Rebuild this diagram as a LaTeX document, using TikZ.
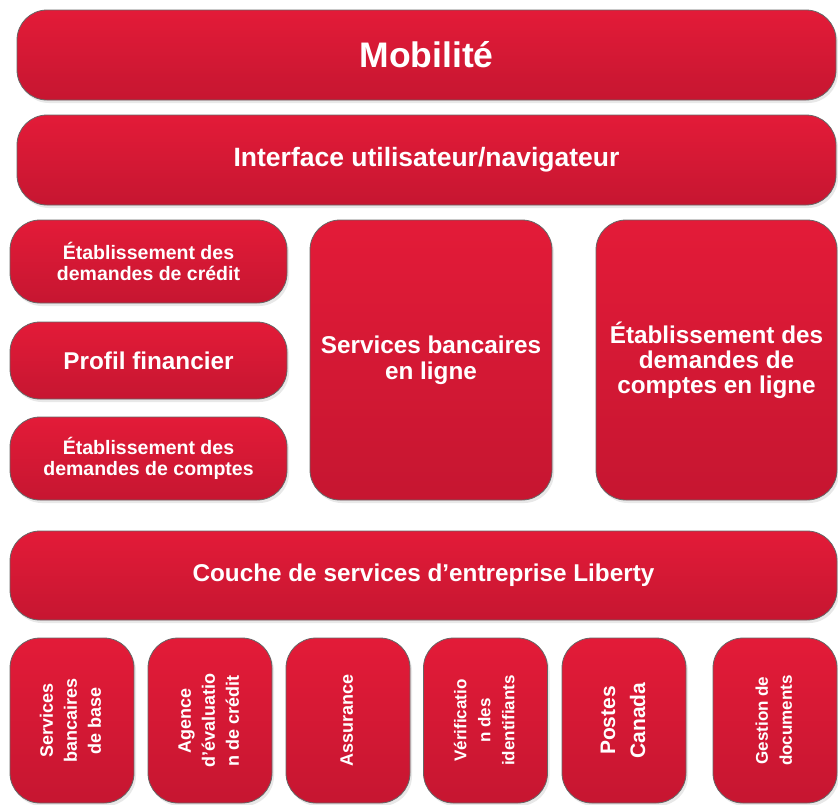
\documentclass[tikz,border=0pt]{standalone}
\usepackage{fontspec}
\setmainfont{Liberation Sans}
\usetikzlibrary{shapes,shadows,positioning}
\definecolor{libred}{HTML}{E31B38}
\definecolor{libdark}{HTML}{C61631}
\tikzstyle{block} = [rectangle, draw=black!60, line width=0.8pt,
    top color=libred, bottom color=libdark, text=white, align=center,
    rounded corners=30pt, inner sep=0pt,
    drop shadow={shadow xshift=2pt, shadow yshift=-3pt, opacity=0.18}]
\tikzstyle{wide} = [block, minimum width=819pt, minimum height=90pt]
\tikzstyle{side} = [block, minimum width=277pt]
\tikzstyle{tall} = [block, minimum width=242pt, minimum height=280pt]
\tikzstyle{base} = [block, minimum width=124pt, minimum height=165pt]
\newcommand{\bsize}[2]{\bfseries\fontsize{#1}{#2}\selectfont}
\newcommand{\sidelabel}[1]{\rotatebox{90}{\begin{tabular}{@{}c@{}}#1\end{tabular}}}

\begin{document}
\begin{tikzpicture}[x=1pt, y=-1pt]
\useasboundingbox (0,0) rectangle (838,804);
%% Top layers
\node [wide, font=\bsize{35.5}{38}] (mobilite) at (426.5,55) {Mobilité};
\node [wide, font=\bsize{26.5}{29}] (interface) at (426.5,160) {Interface utilisateur/navigateur};

%% Left column
\node [side, minimum height=83pt, font=\bsize{19.5}{21}] (credit) at (148.5,261.5)
    {Établissement des\\demandes de crédit};
\node [side, minimum height=77pt, font=\bsize{24.3}{26}] (profil) at (148.5,360.5)
    {Profil financier};
\node [side, minimum height=83pt, font=\bsize{19.5}{21}] (comptes) at (148.5,458.5)
    {Établissement des\\demandes de comptes};

%% Middle and right
\node [tall, font=\bsize{24.3}{26}] (services) at (431,360)
    {Services bancaires\\en ligne};
\node [tall, minimum width=241pt, font=\bsize{24.3}{25}] (enligne) at (716.5,360)
    {Établissement des\\demandes de\\comptes en ligne};

%% Service layer
\node [block, minimum width=827pt, minimum height=89pt, font=\bsize{24.3}{26}] (couche)
    at (423.5,575.5) {Couche de services d’entreprise Liberty};

%% Back-end systems
\node [base, font=\bsize{18}{24}] (base) at (72,720.5)
    {\sidelabel{Services\\bancaires\\de base}};
\node [base, font=\bsize{18}{24}] (agence) at (210,720.5)
    {\sidelabel{Agence\\d’évaluatio\\n de crédit}};
\node [base, font=\bsize{18}{24}] (assurance) at (348,720.5)
    {\sidelabel{Assurance}};
\node [base, font=\bsize{17}{24}] (verif) at (485.5,720.5)
    {\sidelabel{Vérificatio\\n des\\identifiants}};
\node [base, font=\bsize{21}{30}] (postes) at (624,720.5)
    {\sidelabel{Postes\\Canada}};
\node [base, font=\bsize{17}{24}] (gestion) at (775,720.5)
    {\sidelabel{Gestion de\\documents}};
\end{tikzpicture}
\end{document}
